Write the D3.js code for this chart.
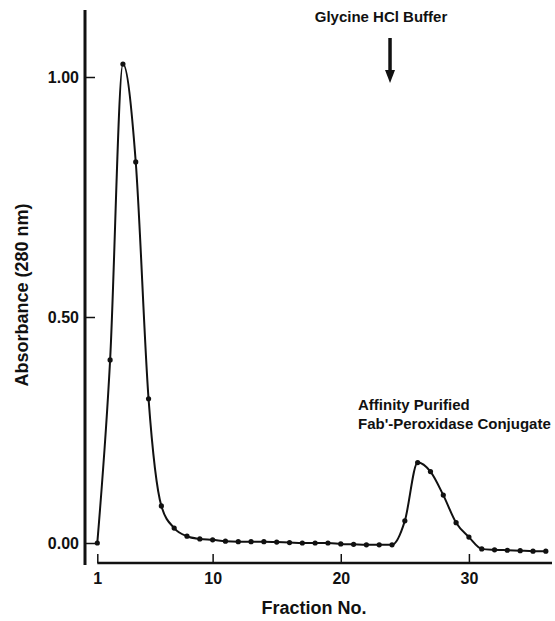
<!DOCTYPE html>
<html>
<head>
<meta charset="utf-8">
<script src="https://cdn.jsdelivr.net/npm/d3@7"></script>
<style>
  body { margin: 0; background: #fff; }
  text { font-family: "Liberation Sans", Arial, sans-serif; font-weight: bold; fill: #111; }
</style>
</head>
<body>
<div id="chart"></div>
<script>
// fraction numbers and absorbance
let fractions = d3.range(1, 37);
let absorbance = [
  0.000, 0.405, 1.027, 0.823, 0.319, 0.082, 0.033, 0.015, 0.009, 0.007,
  0.004, 0.003, 0.003, 0.003, 0.002, 0.001, 0.000, 0.000, 0.000, -0.002,
  -0.003, -0.004, -0.004, -0.004, 0.049, 0.178, 0.158, 0.106, 0.045, 0.013,
  -0.013, -0.015, -0.016, -0.017, -0.018, -0.018
];
let yTicks = [0, 0.5, 1.0];
let xTicks = [1, 10, 20, 30];
let bufferAt = 24;

let width = 555, height = 621;

let svg = d3.select('#chart')
  .append('svg')
  .attr('width', width)
  .attr('height', height);

let x = d3.scaleLinear().domain([1, 36]).range([97.3, 545.8]);
// the printed axis is a little uneven, so a piecewise scale
let y = d3.scaleLinear().domain([0, 0.5, 1]).range([543, 317, 77]);

let data = fractions.map((f, i) => ({ f: f, v: absorbance[i] }));

// y axis - ticks point inward
let yAxis = svg.append('g')
  .attr('transform', 'translate(85,0)')
  .call(d3.axisLeft(y).tickValues(yTicks).tickFormat(d3.format('.2f'))
    .tickSizeInner(-10).tickSizeOuter(0).tickPadding(6));
yAxis.select('.domain').remove();
yAxis.selectAll('.tick line').attr('stroke', '#111').attr('stroke-width', 1.5);
yAxis.selectAll('.tick text').style('font-size', '16px').attr('dy', '0.36em');
svg.append('line')
  .attr('x1', 85).attr('x2', 85)
  .attr('y1', 10).attr('y2', 565)
  .attr('stroke', '#111').attr('stroke-width', 3);

// x axis
let xAxis = svg.append('g')
  .attr('transform', 'translate(0,563)')
  .call(d3.axisBottom(x).tickValues(xTicks).tickFormat(d3.format('d'))
    .tickSizeInner(-9).tickSizeOuter(0).tickPadding(10));
xAxis.select('.domain').remove();
xAxis.selectAll('.tick line').attr('stroke', '#111').attr('stroke-width', 1.5);
xAxis.selectAll('.tick text').style('font-size', '16px');
svg.append('line')
  .attr('x1', x(1)).attr('x2', 552)
  .attr('y1', 563).attr('y2', 563)
  .attr('stroke', '#111').attr('stroke-width', 2.5);

// curve
let line = d3.line()
  .x(d => x(d.f))
  .y(d => y(d.v))
  .curve(d3.curveMonotoneX);

svg.append('path')
  .datum(data)
  .attr('d', line)
  .attr('fill', 'none')
  .attr('stroke', '#111')
  .attr('stroke-width', 2);

svg.selectAll('circle.pt')
  .data(data)
  .enter()
  .append('circle')
  .attr('class', 'pt')
  .attr('cx', d => x(d.f))
  .attr('cy', d => y(d.v))
  .attr('r', 2.6)
  .attr('fill', '#111');

// axis titles
svg.append('text')
  .attr('transform', 'translate(28,295) rotate(-90)')
  .attr('text-anchor', 'middle')
  .style('font-size', '18px')
  .text('Absorbance (280 nm)');

svg.append('text')
  .attr('x', 314).attr('y', 614)
  .attr('text-anchor', 'middle')
  .style('font-size', '18px')
  .text('Fraction No.');

// buffer annotation + arrow
let ax = x(bufferAt) - 2;
svg.append('text')
  .attr('x', 381).attr('y', 22)
  .attr('text-anchor', 'middle')
  .style('font-size', '15px')
  .text('Glycine HCl Buffer');
svg.append('line')
  .attr('x1', ax).attr('x2', ax)
  .attr('y1', 38).attr('y2', 72)
  .attr('stroke', '#111').attr('stroke-width', 3.5);
svg.append('path')
  .attr('d', `M${ax - 5},70 L${ax + 5},70 L${ax},83 Z`)
  .attr('fill', '#111');

// peak label
let lbl = svg.append('text')
  .attr('x', 358).attr('y', 410)
  .style('font-size', '15px');
lbl.append('tspan').attr('x', 358).text('Affinity Purified');
lbl.append('tspan').attr('x', 358).attr('dy', 19).text("Fab'-Peroxidase Conjugate");
</script>
</body>
</html>
